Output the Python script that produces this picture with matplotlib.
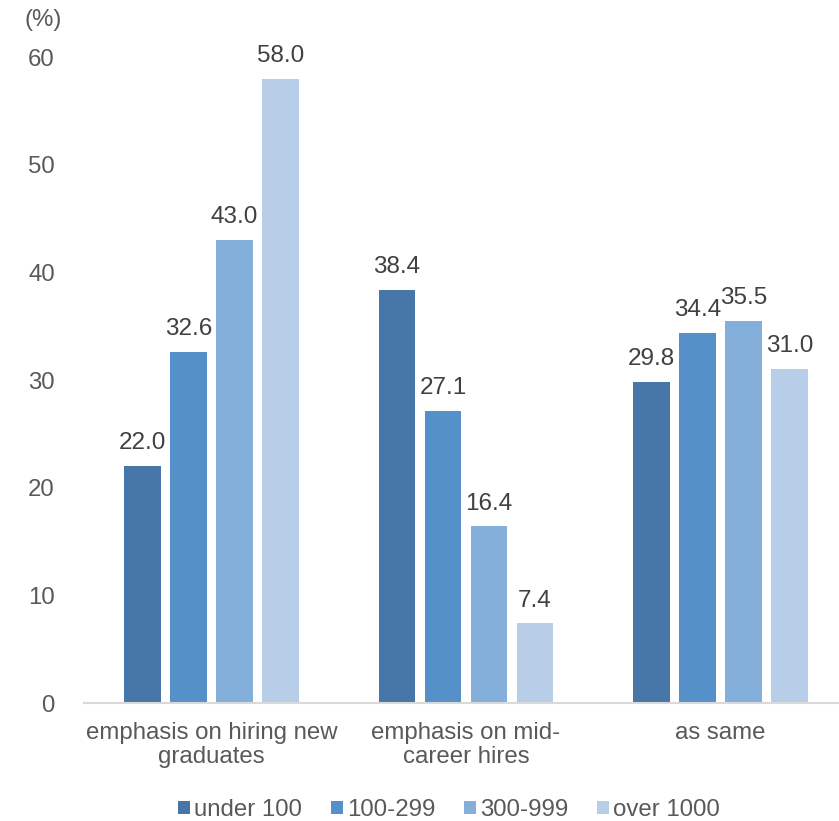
import matplotlib
matplotlib.use("Agg")
import matplotlib.pyplot as plt
import numpy as np

categories = ["emphasis on hiring new\ngraduates", "emphasis on mid-\ncareer hires", "as same"]
series_names = ["under 100", "100-299", "300-999", "over 1000"]
under_100 = [22.0, 38.4, 29.8]
s_100_299 = [32.6, 27.1, 34.4]
s_300_999 = [43.0, 16.4, 35.5]
over_1000 = [58.0, 7.4, 31.0]
yticks = [0, 10, 20, 30, 40, 50, 60]

series = [under_100, s_100_299, s_300_999, over_1000]
colors = ["#4677A8", "#5591C8", "#84AFDB", "#B7CDE8"]

plt.rcParams['font.family'] = ['Liberation Sans', 'DejaVu Sans']
fig = plt.figure(figsize=(8.39, 8.21), dpi=100)
W, H = 839, 821
ax = fig.add_axes([84 / W, (821 - 703) / H, (848 - 84) / W, (703 - 57) / H])

FS = 17.3
x = np.arange(len(categories))
bw = 0.145
step = 0.1806
for i, (vals, c, name) in enumerate(zip(series, colors, series_names)):
    pos = x + (i - 1.5) * step
    ax.bar(pos, vals, width=bw, color=c, label=name, zorder=2)
    for p, v in zip(pos, vals):
        ax.annotate(f"{v:.1f}", (p, v), xytext=(0, 8.5), textcoords="offset points",
                    ha="center", va="bottom", fontsize=17.5, color="#404040",
                    annotation_clip=False)

ax.set_xlim(-0.5, 2.5)
ax.set_ylim(0, 60)
ax.set_yticks(yticks)
ax.set_yticklabels([str(t) for t in yticks])
ax.set_xticks(x)
ax.set_xticklabels(categories, fontsize=FS, color="#595959", linespacing=1.12)
ax.tick_params(axis="y", length=0, pad=21, labelsize=FS, labelcolor="#595959")
ax.tick_params(axis="x", length=0, pad=14)
for s in ["top", "right", "left"]:
    ax.spines[s].set_visible(False)
ax.spines["bottom"].set_color("#D9D9D9")
ax.spines["bottom"].set_linewidth(1.5)

fig.text(43 / W, 1 - 20 / H, "(%)", ha="center", va="center", fontsize=FS, color="#595959")

fig.legend(loc="center", bbox_to_anchor=(449 / W, 1 - 810 / H), ncol=4, frameon=False,
           fontsize=FS, handlelength=0.5, handleheight=0.5, handletextpad=0.17,
           columnspacing=1.2, labelcolor="#595959")

fig.savefig("out.png", dpi=100)
